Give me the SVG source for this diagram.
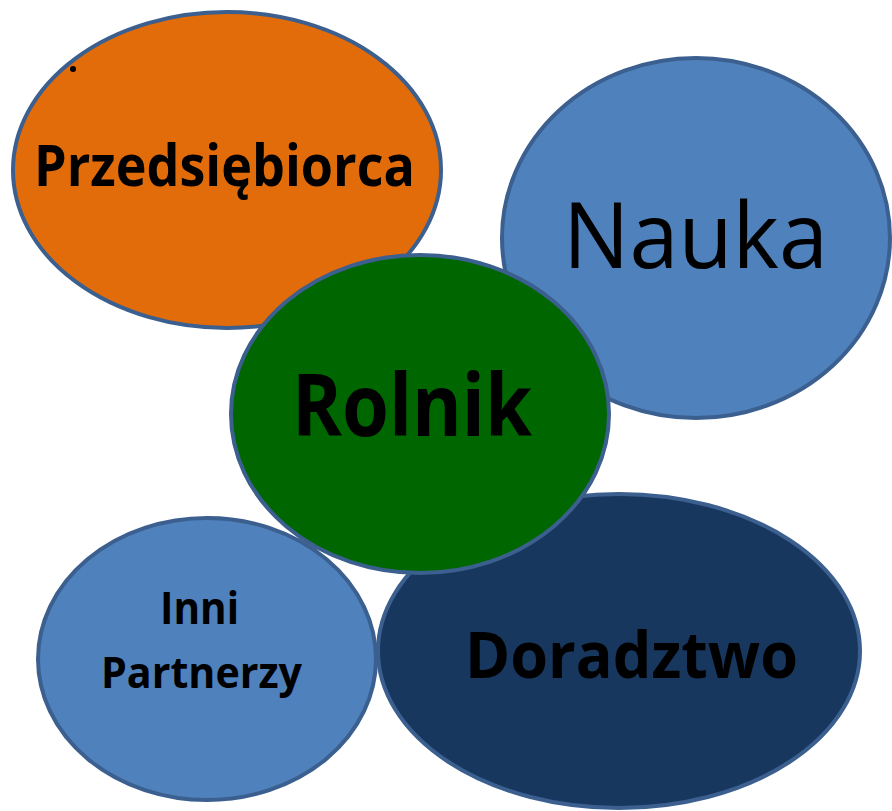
<svg xmlns="http://www.w3.org/2000/svg" width="892" height="811" viewBox="0 0 892 811">
<style>
.e{stroke:#3B5F8E;stroke-width:4}
.t{font-family:"Open Sans","Noto Sans","DejaVu Sans",sans-serif;fill:#000;font-weight:bold}
.n{font-family:"Open Sans","Noto Sans","DejaVu Sans",sans-serif;fill:#000;font-weight:500}
</style>
<rect width="892" height="811" fill="#fff"/>
<g id="przedsiebiorca">
<ellipse class="e" cx="227" cy="170" rx="214" ry="158" fill="#E36C0A"/>
<circle cx="73" cy="69" r="3" fill="#000"/>
<text class="t" x="34" y="186" font-size="58" textLength="381" lengthAdjust="spacingAndGlyphs">Przedsiębiorca</text>
</g>
<g id="nauka">
<ellipse class="e" cx="696" cy="238" rx="194" ry="180" fill="#4F81BD"/>
<text class="n" x="563" y="268" font-size="92" textLength="265" lengthAdjust="spacingAndGlyphs">Nauka</text>
</g>
<g id="doradztwo">
<ellipse class="e" cx="619" cy="651" rx="241" ry="157" fill="#17375E"/>
<text class="t" x="465" y="678" font-size="65" textLength="333" lengthAdjust="spacingAndGlyphs">Doradztwo</text>
</g>
<g id="inni-partnerzy">
<ellipse class="e" cx="207" cy="659" rx="169" ry="141" fill="#4F81BD"/>
<text class="t" x="160" y="624" font-size="45" textLength="79" lengthAdjust="spacingAndGlyphs">Inni</text>
<text class="t" x="101" y="688" font-size="43" textLength="201" lengthAdjust="spacingAndGlyphs">Partnerzy</text>
</g>
<g id="rolnik">
<ellipse class="e" cx="420" cy="414" rx="189" ry="159" fill="#006600"/>
<text class="t" x="292" y="436" font-size="86" textLength="240" lengthAdjust="spacingAndGlyphs">Rolnik</text>
</g>
<g id="connectors"></g>
</svg>
